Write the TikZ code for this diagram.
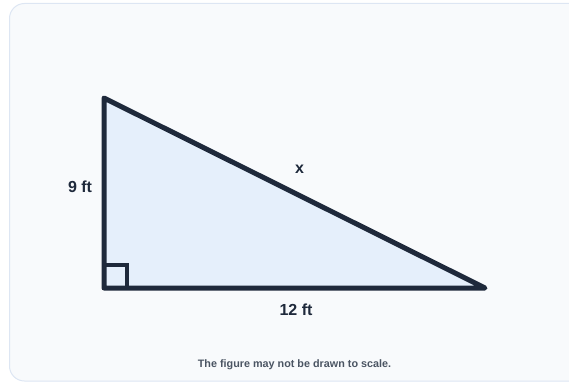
\documentclass[tikz,border=0pt]{standalone}
\usepackage{fontspec}
\setmainfont{Liberation Sans}
\definecolor{bg}{HTML}{F8FAFC}
\definecolor{bgline}{HTML}{DDE6F3}
\definecolor{ink}{HTML}{1E293B}
\definecolor{tri}{HTML}{E5EFFB}
\definecolor{note}{HTML}{4B5563}
\tikzset{
  edge/.style={draw=ink, line width=5pt, line join=round, line cap=round},
  lbl/.style={text=ink, font=\bfseries\fontsize{16}{18}\selectfont, inner sep=0pt},
  caption/.style={text=note, font=\bfseries\fontsize{10.8}{12}\selectfont, inner sep=0pt}
}
\begin{document}
\begin{tikzpicture}[x=1pt,y=-1pt]
\useasboundingbox (0,0) rectangle (569,382);
\begin{scope}
\clip (0,0) rectangle (569,382);
\draw[fill=bg, draw=bgline, line width=1pt, rounded corners=15pt] (9.5,3.5) rectangle (590,381);
\end{scope}
\coordinate (A) at (104,98);
\coordinate (B) at (104,288);
\coordinate (C) at (485,288);
\fill[tri] (A) -- (B) -- (C) -- cycle;
\draw[draw=ink, line width=4pt] (104,288) rectangle (127,265);
\draw[edge] (A) -- (B) -- (C) -- cycle;
\node[lbl] (h) at (80,187) {9 ft};
\node[lbl] (x) at (299.5,169) {x};
\node[lbl] (b) at (296,310) {12 ft};
\node[caption] (cap) at (294.5,364.5) {The figure may not be drawn to scale.};
\end{tikzpicture}
\end{document}
